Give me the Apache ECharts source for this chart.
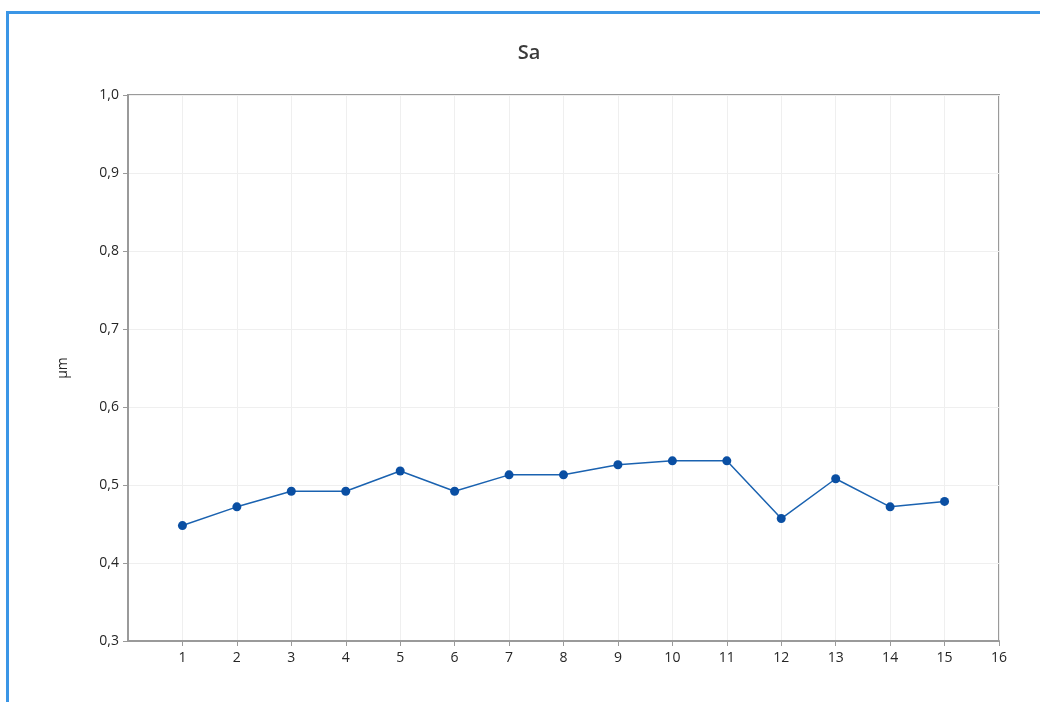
<!DOCTYPE html>
<html>
<head>
<meta charset="utf-8">
<style>
  html, body { margin: 0; padding: 0; background: #fff; }
  #wrap { position: relative; width: 1040px; height: 702px; overflow: hidden; }
  #frame { position: absolute; left: 6px; top: 11px; width: 1100px; height: 800px;
           border-left: 3px solid #3b96e6; border-top: 3px solid #3b96e6; }
  #chart { position: absolute; left: 0; top: 0; width: 1040px; height: 702px; }
</style>
<script src="https://cdn.jsdelivr.net/npm/echarts@6/dist/echarts.min.js"></script>
</head>
<body>
<div id="wrap">
  <div id="frame"></div>
  <div id="chart"></div>
</div>
<script>
// Sample index and measured Sa roughness (µm)
const samples = [1, 2, 3, 4, 5, 6, 7, 8, 9, 10, 11, 12, 13, 14, 15];
const saValues = [0.448, 0.472, 0.492, 0.492, 0.518, 0.492, 0.513, 0.513, 0.526, 0.531, 0.531, 0.457, 0.508, 0.472, 0.479];
const xTicks = [1, 2, 3, 4, 5, 6, 7, 8, 9, 10, 11, 12, 13, 14, 15, 16];
const chartTitle = 'Sa';
const yAxisName = 'µm';

const font = '"Open Sans", "Noto Sans", sans-serif';
const chart = echarts.init(document.getElementById('chart'), null, { renderer: 'canvas' });

chart.setOption({
  backgroundColor: 'transparent',
  animation: false,
  title: {
    text: chartTitle,
    left: 524,
    textAlign: 'center',
    top: 38,
    textStyle: { fontFamily: font, fontSize: 20, fontWeight: 600, color: '#3a3a3a' }
  },
  grid: {
    left: 128, right: 41, top: 95, bottom: 61,
    show: true, borderColor: '#9a9a9a', borderWidth: 2
  },
  xAxis: {
    type: 'value',
    min: 0, max: 16, interval: 1,
    axisLine: { show: true, onZero: false, lineStyle: { color: '#9a9a9a', width: 2 } },
    axisTick: { show: true, length: 5, customValues: xTicks, lineStyle: { color: '#9a9a9a', width: 1 } },
    axisLabel: {
      margin: 10, fontFamily: font, fontSize: 14, color: '#262626',
      formatter: v => (v === 0 ? '' : String(v))
    },
    splitLine: { show: true, lineStyle: { color: '#efefef', width: 1 } }
  },
  yAxis: {
    type: 'value',
    min: 0.3, max: 1.0, interval: 0.1,
    name: yAxisName,
    nameLocation: 'middle',
    nameGap: 58,
    nameRotate: 90,
    nameTextStyle: { fontFamily: font, fontSize: 14, color: '#262626' },
    axisLine: { show: true, lineStyle: { color: '#9a9a9a', width: 2 } },
    axisTick: { show: true, length: 5, lineStyle: { color: '#9a9a9a', width: 1 } },
    axisLabel: {
      margin: 9, fontFamily: font, fontSize: 14, color: '#262626',
      formatter: v => v.toFixed(1).replace('.', ',')
    },
    splitLine: { show: true, lineStyle: { color: '#efefef', width: 1 } }
  },
  series: [{
    type: 'line',
    data: samples.map((s, i) => [s, saValues[i]]),
    symbol: 'circle',
    symbolSize: 9,
    lineStyle: { color: '#1a62b0', width: 1.5 },
    itemStyle: { color: '#0a4fa3' }
  }]
});
</script>
</body>
</html>
